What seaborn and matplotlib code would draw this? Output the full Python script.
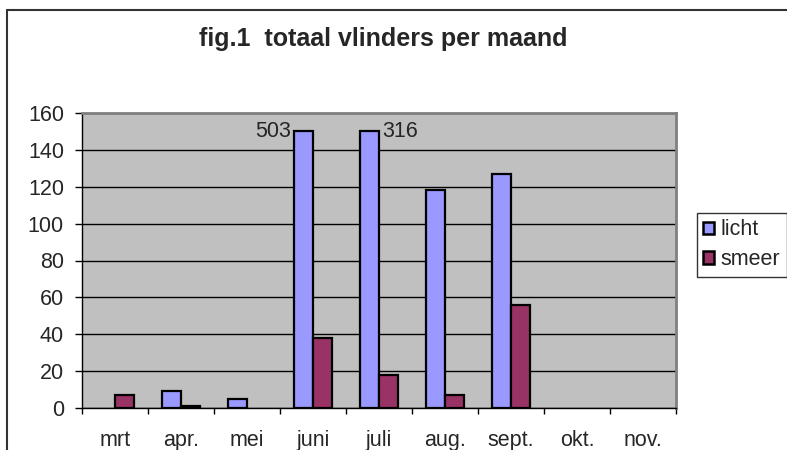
import numpy as np
import pandas as pd
import matplotlib
matplotlib.use('Agg')
import matplotlib.pyplot as plt
from matplotlib.lines import Line2D
from matplotlib.patches import Patch
import seaborn as sns

# data
maanden = ['mrt', 'apr.', 'mei', 'juni', 'juli', 'aug.', 'sept.', 'okt.', 'nov.']
licht = [0, 9, 5, 503, 316, 118, 127, 0, 0]
smeer = [7, 1, 0, 38, 18, 7, 56, 0, 0]
afkap = 150  # bars above this are cut off and labelled with the real number

df = pd.DataFrame({
    'maand': maanden * 2,
    'aantal': list(np.minimum(licht, afkap)) + smeer,
    'soort': ['licht'] * len(maanden) + ['smeer'] * len(maanden),
})

sns.set_style('white')
plt.rcParams['font.family'] = ['Liberation Sans', 'DejaVu Sans']

kleuren = {'licht': '#9999FF', 'smeer': '#993366'}
fs = 15.5

fig = plt.figure(figsize=(7.87, 4.5), dpi=100)
ax = fig.add_axes([82 / 787, 42 / 450, 594 / 787, 295 / 450])
ax.set_facecolor('#C0C0C0')

sns.barplot(data=df, x='maand', y='aantal', hue='soort', palette=kleuren,
            width=0.58, edgecolor='black', linewidth=1.6, saturation=1,
            legend=False, ax=ax, zorder=3)

# empty bars are not drawn in the original
for cont in ax.containers:
    for bar in cont:
        if bar.get_height() == 0:
            bar.set_visible(False)

# labels for the cut-off bars
licht_bars = ax.containers[0]
for i, (bar, v) in enumerate(zip(licht_bars, licht)):
    if v > afkap:
        if i == 3:
            ax.annotate(str(v), (bar.get_x(), bar.get_height()), xytext=(-2, 0),
                        textcoords='offset points', ha='right', va='center', fontsize=fs)
        else:
            ax.annotate(str(v), (bar.get_x() + bar.get_width(), bar.get_height()),
                        xytext=(2, 0), textcoords='offset points', ha='left',
                        va='center', fontsize=fs)

ax.set_ylim(0, 160)
ax.set_xlim(-0.5, len(maanden) - 0.5)
ax.set_yticks(range(0, 161, 20))
ax.set_yticklabels([str(v) for v in range(0, 161, 20)], fontsize=fs)
ax.yaxis.grid(True, color='black', linewidth=1, zorder=1)
ax.set_axisbelow(True)
ax.set_xlabel('')
ax.set_ylabel('')

# category labels between boundary ticks
ax.set_xticks(np.arange(-0.5, len(maanden), 1))
ax.set_xticklabels([])
ax.set_xticks(range(len(maanden)), minor=True)
ax.set_xticklabels(maanden, minor=True, fontsize=fs)
ax.tick_params(axis='x', which='major', direction='out', length=4, width=1, color='black', bottom=True)
ax.tick_params(axis='x', which='minor', length=0, pad=16)
ax.tick_params(axis='y', direction='out', length=5, width=1, color='black', left=True, pad=8)

for s in ['top', 'right']:
    ax.spines[s].set_color('#808080')
    ax.spines[s].set_linewidth(2)
for s in ['left', 'bottom']:
    ax.spines[s].set_color('black')
    ax.spines[s].set_linewidth(1)

handles = [Patch(facecolor=kleuren[k], edgecolor='black', linewidth=1.8, label=k) for k in ['licht', 'smeer']]
fig.legend(handles=handles, loc='upper left', bbox_to_anchor=(697 / 787, 1 - 213 / 450),
           fontsize=fs, frameon=True, fancybox=False, edgecolor='black',
           handlelength=0.5, handleheight=0.5, handletextpad=0.3, borderpad=0.3,
           labelspacing=0.4, borderaxespad=0)

fig.text(383 / 787, 1 - 39 / 450, 'fig.1  totaal vlinders per maand',
         ha='center', va='center', fontsize=18, fontweight='bold')

# outer chart frame (cropped on right and bottom)
fig.add_artist(Line2D([7 / 787, 7 / 787], [0, 1 - 10 / 450], color='#333333', linewidth=1.5))
fig.add_artist(Line2D([7 / 787, 1], [1 - 10 / 450, 1 - 10 / 450], color='#333333', linewidth=1.5))

fig.savefig('out.png', dpi=100)
